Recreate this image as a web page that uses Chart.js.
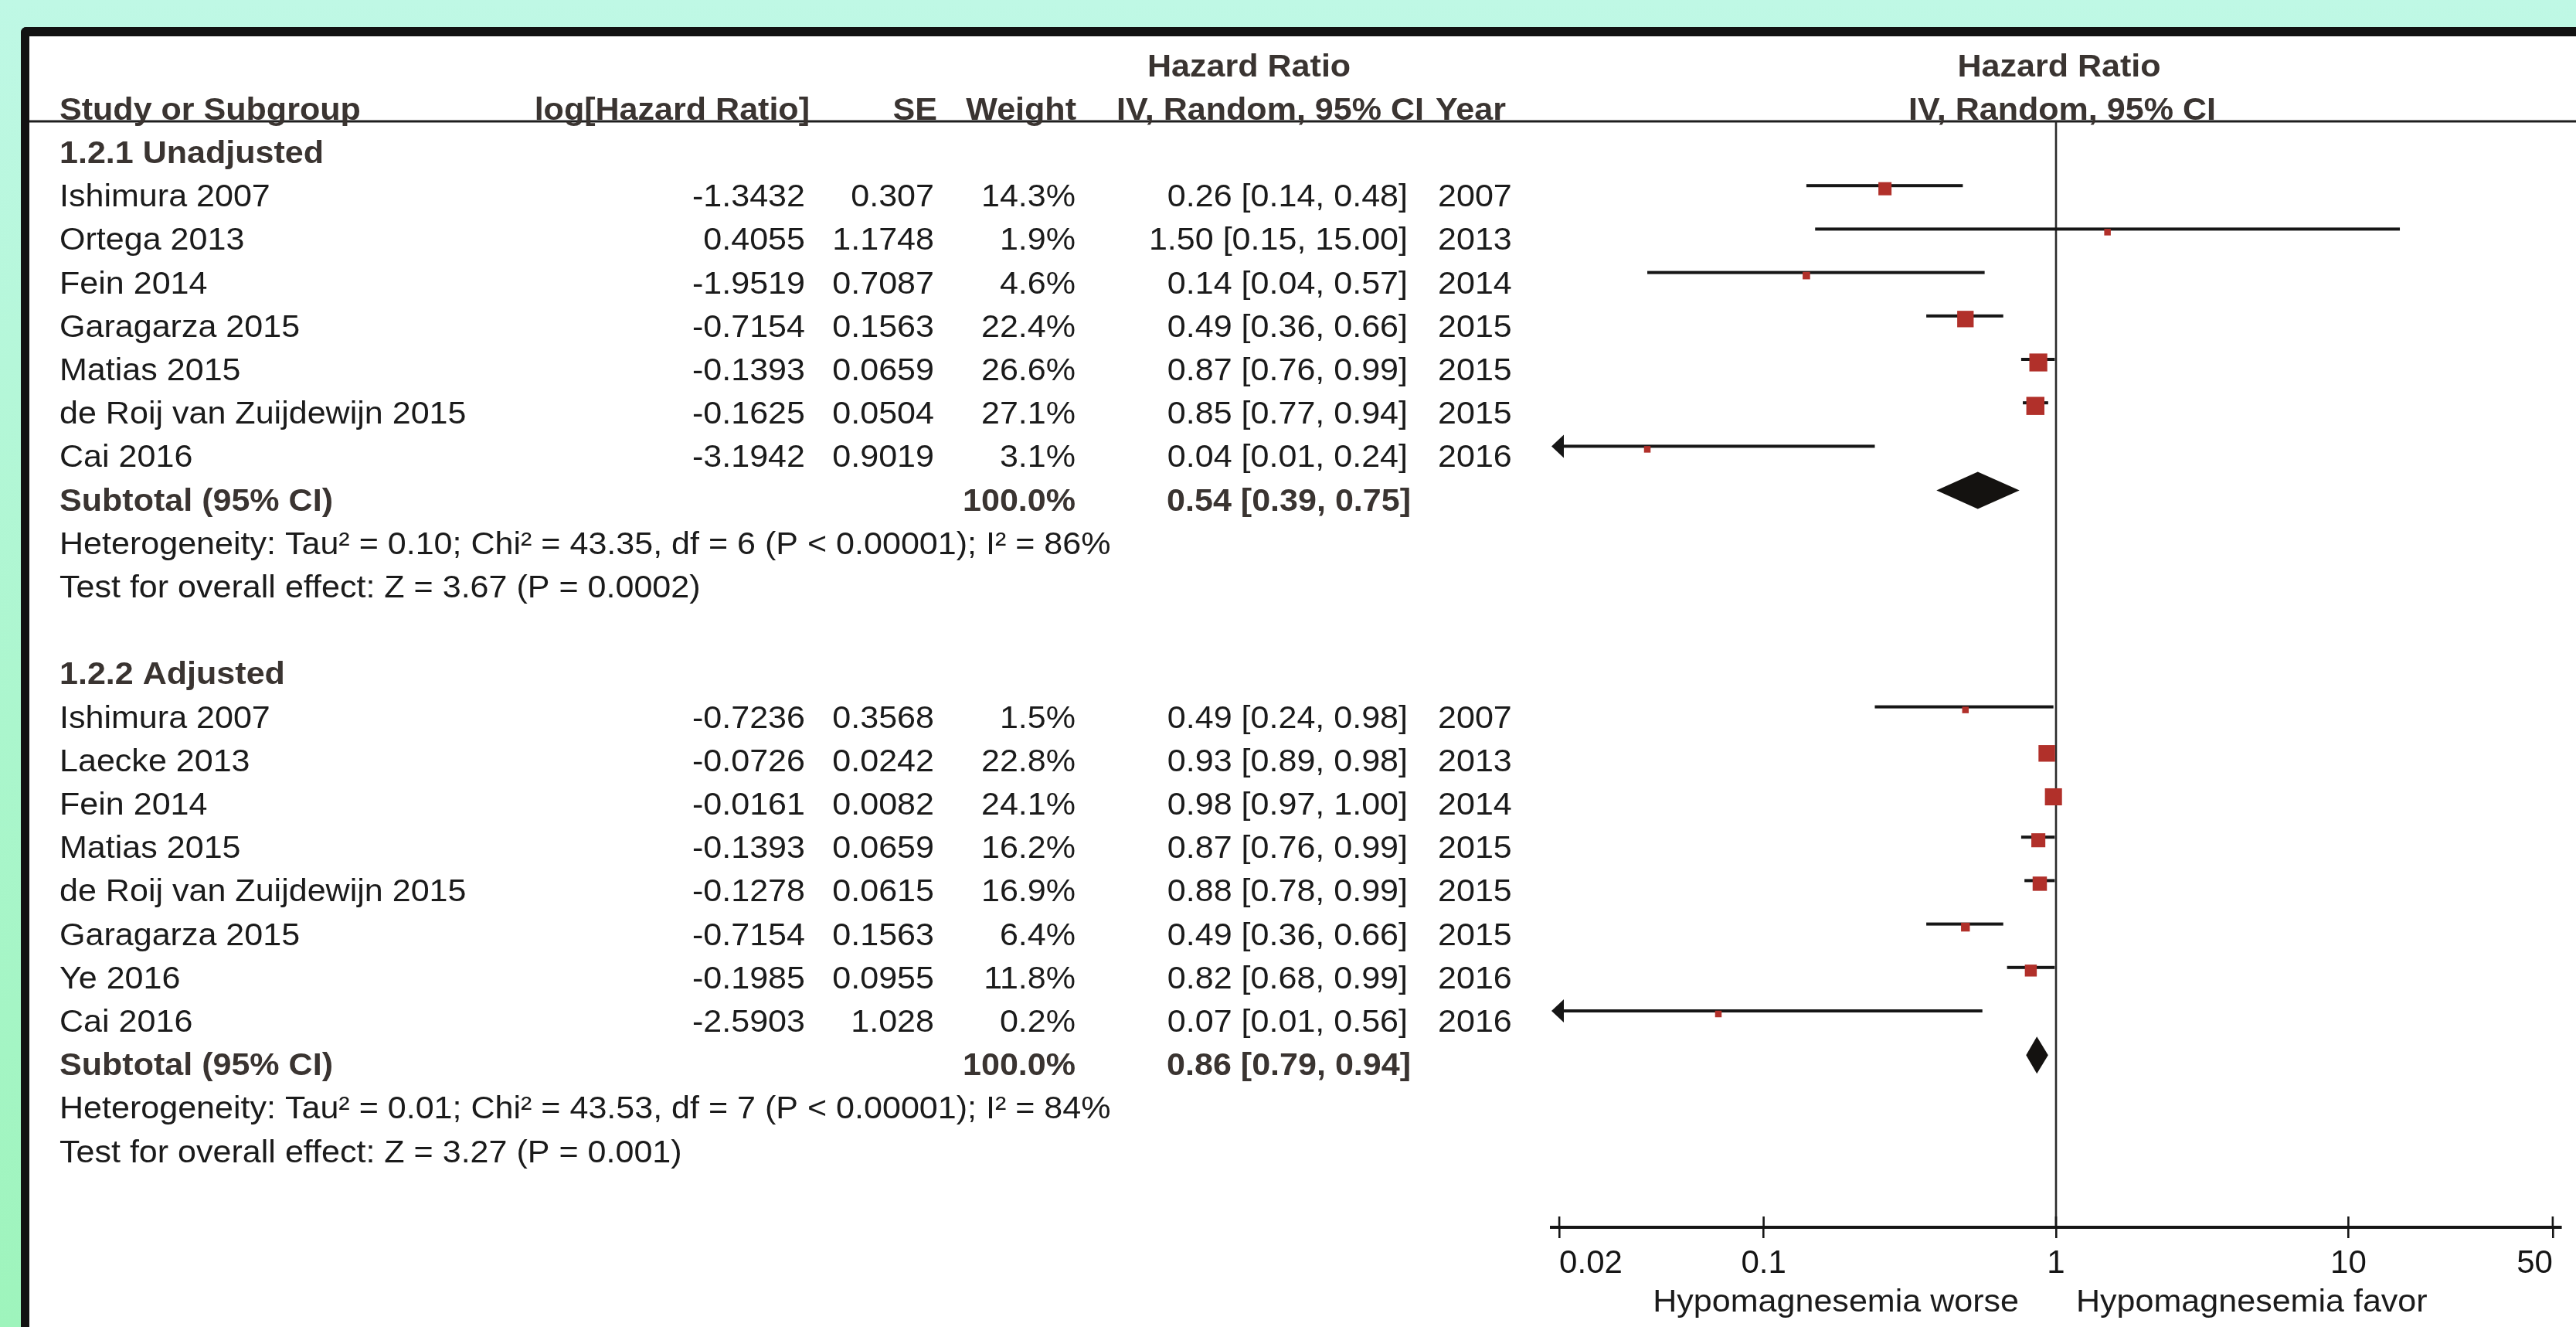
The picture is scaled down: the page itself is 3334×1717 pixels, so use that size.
<!DOCTYPE html>
<html>
<head>
<meta charset="utf-8">
<script src="https://cdn.jsdelivr.net/npm/chart.js@4.4.0/dist/chart.umd.min.js"></script>
<style>
html, body { margin: 0; padding: 0; }
body {
    width: 3334px; height: 1717px; overflow: hidden; position: relative;
    background: linear-gradient(to bottom, #bff8e5 0%, #abf6cd 55%, #9ef4bc 100%);
}
#panel {
    position: absolute; left: 27px; top: 35px; width: 3307px; height: 1682px;
    box-sizing: border-box; background: #fff;
    border-top: 12px solid #121212; border-left: 11px solid #121212;
    border-top-left-radius: 7px;
}
#chart { position: absolute; left: 0; top: 0; }
</style>
</head>
<body>
<div id="panel"></div>
<canvas id="chart" width="3334" height="1717"></canvas>
<script>
// 1.2.1 Unadjusted
var studies1 = ['Ishimura 2007', 'Ortega 2013', 'Fein 2014', 'Garagarza 2015', 'Matias 2015', 'de Roij van Zuijdewijn 2015', 'Cai 2016'];
var logHr1 = [-1.3432, 0.4055, -1.9519, -0.7154, -0.1393, -0.1625, -3.1942];
var se1 = [0.307, 1.1748, 0.7087, 0.1563, 0.0659, 0.0504, 0.9019];
var weight1 = [14.3, 1.9, 4.6, 22.4, 26.6, 27.1, 3.1];
var hr1 = [0.26, 1.50, 0.14, 0.49, 0.87, 0.85, 0.04];
var lo1 = [0.14, 0.15, 0.04, 0.36, 0.76, 0.77, 0.01];
var hi1 = [0.48, 15.00, 0.57, 0.66, 0.99, 0.94, 0.24];
var year1 = [2007, 2013, 2014, 2015, 2015, 2015, 2016];
var subtotal1 = [0.54, 0.39, 0.75];
var het1 = 'Heterogeneity: Tau\u00b2 = 0.10; Chi\u00b2 = 43.35, df = 6 (P < 0.00001); I\u00b2 = 86%';
var test1 = 'Test for overall effect: Z = 3.67 (P = 0.0002)';

// 1.2.2 Adjusted
var studies2 = ['Ishimura 2007', 'Laecke 2013', 'Fein 2014', 'Matias 2015', 'de Roij van Zuijdewijn 2015', 'Garagarza 2015', 'Ye 2016', 'Cai 2016'];
var logHr2 = [-0.7236, -0.0726, -0.0161, -0.1393, -0.1278, -0.7154, -0.1985, -2.5903];
var se2 = [0.3568, 0.0242, 0.0082, 0.0659, 0.0615, 0.1563, 0.0955, 1.028];
var weight2 = [1.5, 22.8, 24.1, 16.2, 16.9, 6.4, 11.8, 0.2];
var hr2 = [0.49, 0.93, 0.98, 0.87, 0.88, 0.49, 0.82, 0.07];
var lo2 = [0.24, 0.89, 0.97, 0.76, 0.78, 0.36, 0.68, 0.01];
var hi2 = [0.98, 0.98, 1.00, 0.99, 0.99, 0.66, 0.99, 0.56];
var year2 = [2007, 2013, 2014, 2015, 2015, 2015, 2016, 2016];
var subtotal2 = [0.86, 0.79, 0.94];
var het2 = 'Heterogeneity: Tau\u00b2 = 0.01; Chi\u00b2 = 43.53, df = 7 (P < 0.00001); I\u00b2 = 84%';
var test2 = 'Test for overall effect: Z = 3.27 (P = 0.001)';

var groupTitles = ['1.2.1 Unadjusted', '1.2.2 Adjusted'];
var tickValues = [0.02, 0.1, 1, 10, 50];
var tickLabels = ['0.02', '0.1', '1', '10', '50'];
var axisLabels = ['Hypomagnesemia worse', 'Hypomagnesemia favor'];

var FONT = '"Liberation Sans", Arial, sans-serif';
var TEXT = '#1b1b1b';
var BOLD = '#3a3431';
var RED = '#b1302a';
var INK = '#161616';

// row numbers on the y scale
var start1 = 1;
var sub1Row = start1 + studies1.length;
var start2 = sub1Row + 5;
var sub2Row = start2 + studies2.length;

function squareSide(w) {
    return Math.max(8.5, 4.5 * Math.sqrt(w));
}

function squarePoints(hr, start) {
    return hr.map(function (v, i) { return { x: v, y: start + i }; });
}

var points = squarePoints(hr1, start1).concat(squarePoints(hr2, start2));
var radii = weight1.concat(weight2).map(function (w) { return squareSide(w) / Math.SQRT2; });

function txt(ctx, s, x, y, align, bold) {
    ctx.save();
    ctx.font = (bold ? 'bold ' : '') + '41px ' + FONT;
    ctx.fillStyle = bold ? BOLD : TEXT;
    ctx.textAlign = align;
    ctx.textBaseline = 'alphabetic';
    ctx.translate(x, y);
    ctx.scale(1.05, 1);
    ctx.fillText(s, 0, 0);
    ctx.restore();
}

function drawCI(ctx, xs, ys, lo, hi, row) {
    var y = ys.getPixelForValue(row) - 4;
    var x1 = xs.getPixelForValue(lo);
    var x2 = xs.getPixelForValue(hi);
    ctx.fillStyle = INK;
    if (lo < tickValues[0]) {
        x1 = xs.left + 16;
        ctx.beginPath();
        ctx.moveTo(xs.left, y);
        ctx.lineTo(x1, y - 15);
        ctx.lineTo(x1, y + 15);
        ctx.closePath();
        ctx.fill();
    }
    if (hi > tickValues[tickValues.length - 1]) {
        x2 = xs.right - 16;
        ctx.beginPath();
        ctx.moveTo(xs.right, y);
        ctx.lineTo(x2, y - 15);
        ctx.lineTo(x2, y + 15);
        ctx.closePath();
        ctx.fill();
    }
    ctx.fillRect(x1, y - 2, x2 - x1, 4);
}

function drawDiamond(ctx, xs, ys, sub, row) {
    var y = ys.getPixelForValue(row) - 3;
    ctx.fillStyle = '#141210';
    ctx.beginPath();
    ctx.moveTo(xs.getPixelForValue(sub[1]), y);
    ctx.lineTo(xs.getPixelForValue(sub[0]), y - 24);
    ctx.lineTo(xs.getPixelForValue(sub[2]), y);
    ctx.lineTo(xs.getPixelForValue(sub[0]), y + 24);
    ctx.closePath();
    ctx.fill();
}

function drawGroupText(ctx, ys, title, start, studies, logHr, se, weight, hr, lo, hi, year, sub, het, test) {
    var base = function (row) { return ys.getPixelForValue(row) + 23; };
    txt(ctx, title, 77, base(start - 1), 'left', true);
    for (var i = 0; i < studies.length; i++) {
        var y = base(start + i);
        txt(ctx, studies[i], 77, y, 'left');
        txt(ctx, String(logHr[i]), 1042, y, 'right');
        txt(ctx, String(se[i]), 1209, y, 'right');
        txt(ctx, weight[i].toFixed(1) + '%', 1392, y, 'right');
        txt(ctx, hr[i].toFixed(2) + ' [' + lo[i].toFixed(2) + ', ' + hi[i].toFixed(2) + ']', 1822, y, 'right');
        txt(ctx, String(year[i]), 1861, y, 'left');
    }
    var sr = start + studies.length;
    txt(ctx, 'Subtotal (95% CI)', 77, base(sr), 'left', true);
    txt(ctx, '100.0%', 1392, base(sr), 'right', true);
    txt(ctx, sub[0].toFixed(2) + ' [' + sub[1].toFixed(2) + ', ' + sub[2].toFixed(2) + ']', 1826, base(sr), 'right', true);
    txt(ctx, het, 77, base(sr + 1), 'left');
    txt(ctx, test, 77, base(sr + 2), 'left');
}

var forestPlugin = {
    id: 'forest',
    beforeDatasetsDraw: function (chart) {
        var ctx = chart.ctx;
        var xs = chart.scales.x;
        var ys = chart.scales.y;
        var area = chart.chartArea;
        ctx.save();
        // header rule
        ctx.fillStyle = '#1e1e1e';
        ctx.fillRect(38, area.top - 1.5, chart.width - 38, 3);
        // line of no effect
        var x1 = xs.getPixelForValue(1);
        ctx.fillStyle = '#2a2a2a';
        ctx.fillRect(x1 - 1.3, area.top, 2.6, area.bottom - area.top);
        // upper half of the axis ticks
        ctx.fillStyle = INK;
        tickValues.forEach(function (v) {
            ctx.fillRect(xs.getPixelForValue(v) - 1.3, area.bottom - 14, 2.6, 14);
        });
        for (var i = 0; i < studies1.length; i++) drawCI(ctx, xs, ys, lo1[i], hi1[i], start1 + i);
        for (var j = 0; j < studies2.length; j++) drawCI(ctx, xs, ys, lo2[j], hi2[j], start2 + j);
        drawDiamond(ctx, xs, ys, subtotal1, sub1Row);
        drawDiamond(ctx, xs, ys, subtotal2, sub2Row);
        ctx.restore();
    },
    afterDraw: function (chart) {
        var ctx = chart.ctx;
        var xs = chart.scales.x;
        var ys = chart.scales.y;
        var hb = ys.getPixelForValue(-1) + 23;
        var hb2 = ys.getPixelForValue(-2) + 23;
        txt(ctx, 'Study or Subgroup', 77, hb, 'left', true);
        txt(ctx, 'log[Hazard Ratio]', 1048, hb, 'right', true);
        txt(ctx, 'SE', 1213, hb, 'right', true);
        txt(ctx, 'Weight', 1393, hb, 'right', true);
        txt(ctx, 'Hazard Ratio', 1485, hb2, 'left', true);
        txt(ctx, 'IV, Random, 95% CI', 1843, hb, 'right', true);
        txt(ctx, 'Year', 1858, hb, 'left', true);
        var xc = xs.getPixelForValue(1);
        txt(ctx, 'Hazard Ratio', xc + 4, hb2, 'center', true);
        txt(ctx, 'IV, Random, 95% CI', xc + 8, hb, 'center', true);

        drawGroupText(ctx, ys, groupTitles[0], start1, studies1, logHr1, se1, weight1, hr1, lo1, hi1, year1, subtotal1, het1, test1);
        drawGroupText(ctx, ys, groupTitles[1], start2, studies2, logHr2, se2, weight2, hr2, lo2, hi2, year2, subtotal2, het2, test2);

        txt(ctx, axisLabels[0], xc - 48, 1697, 'right');
        txt(ctx, axisLabels[1], xc + 26, 1697, 'left');
    }
};

Chart.defaults.font.family = FONT;

var chart = new Chart(document.getElementById('chart').getContext('2d'), {
    type: 'scatter',
    data: {
        datasets: [{
            data: points,
            pointStyle: 'rect',
            pointRadius: radii,
            pointHoverRadius: radii,
            pointBorderWidth: 0,
            backgroundColor: RED,
            borderColor: RED
        }]
    },
    options: {
        responsive: false,
        animation: false,
        events: [],
        layout: { padding: { left: 2008, right: 20, top: 157, bottom: 0 } },
        plugins: {
            legend: { display: false },
            tooltip: { enabled: false },
            title: { display: false }
        },
        scales: {
            x: {
                type: 'logarithmic',
                position: 'bottom',
                min: tickValues[0] / 1.0635,
                max: tickValues[tickValues.length - 1] * 1.0635,
                afterBuildTicks: function (s) {
                    s.ticks = tickValues.map(function (v) { return { value: v }; });
                },
                afterFit: function (s) { s.height = 129; },
                border: { display: true, color: INK, width: 4 },
                grid: {
                    display: true, drawOnChartArea: false, drawTicks: true,
                    tickLength: 14, tickWidth: 2.6, tickColor: INK, color: INK, lineWidth: 2.6
                },
                ticks: {
                    autoSkip: false, maxRotation: 0, minRotation: 0, align: 'inner', padding: 8,
                    color: '#151515', font: { size: 42, family: FONT },
                    callback: function (v) {
                        var i = tickValues.indexOf(v);
                        return i >= 0 ? tickLabels[i] : '';
                    }
                }
            },
            y: {
                type: 'linear',
                display: false,
                reverse: true,
                min: -0.5516,
                max: 24.911
            }
        }
    },
    plugins: [forestPlugin]
});
</script>
</body>
</html>
